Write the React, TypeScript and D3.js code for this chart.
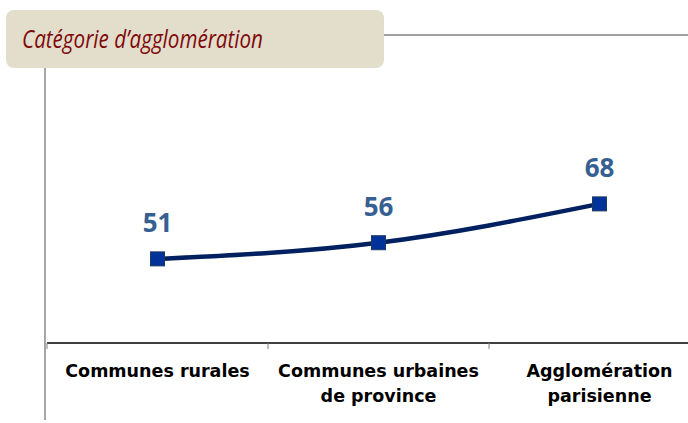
import React from "react";
import * as d3 from "d3";

const categories: string[][] = [["Communes rurales"], ["Communes urbaines", "de province"], ["Agglomération", "parisienne"]];
const values: number[] = [51, 56, 68];
const title = "Catégorie d’agglomération";

export default function App() {
  const W = 688, H = 423;
  const left = 47, axisY = 343;
  const x = d3.scaleBand<number>().domain(d3.range(values.length)).range([left, left + 663]);
  const y = d3.scaleLinear().domain([25, 80]).range([axisY, axisY - 55 * 3.235]);
  const pts: [number, number][] = values.map((v, i) => [x(i)! + x.bandwidth() / 2, y(v)]);
  const line = d3.line().curve(d3.curveMonotoneX)(pts) || "";
  const ticks = d3.range(values.length).map((i) => x(i)!);
  return (
    <svg width={W} height={H} style={{ position: "absolute", left: 0, top: 0 }}>
      <rect x={0} y={0} width={W} height={H} fill="#fff" />
      <line x1={380} x2={W} y1={35} y2={35} stroke="#a0a0a0" strokeWidth={2} />
      <line x1={45} x2={45} y1={60} y2={420} stroke="#a6a6a6" strokeWidth={2} />
      <rect x={6} y={10} width={378} height={58} rx={8} fill="#e3ddcc" />
      <text x={22} y={48} fill="#7f0a0a" fontFamily="Open Sans" fontStyle="italic" fontSize={25} textLength={241} lengthAdjust="spacingAndGlyphs">{title}</text>
      <line x1={left} x2={W} y1={axisY} y2={axisY} stroke="#000" strokeWidth={1.5} />
      {ticks.map((t, i) => (
        <line key={i} x1={t} x2={t} y1={axisY} y2={axisY + 6} stroke="#808080" strokeWidth={1} />
      ))}
      <path d={line} fill="none" stroke="#002060" strokeWidth={4.5} />
      {pts.map(([px, py], i) => (
        <rect key={i} x={px - 7} y={py - 7} width={14} height={14} fill="#003399" stroke="#1f3864" strokeWidth={1} />
      ))}
      {pts.map(([px, py], i) => (
        <text key={i} x={px} y={py - 27} textAnchor="middle" fill="#376092" fontFamily="Open Sans" fontWeight="bold" fontSize={26}>{values[i]}</text>
      ))}
      {categories.map((lines, i) => (
        <text key={i} textAnchor="middle" fontFamily="DejaVu Sans" fontWeight="bold" fontSize={17.5} fill="#000">
          {lines.map((l, j) => (
            <tspan key={j} x={x(i)! + x.bandwidth() / 2} y={377 + j * 25}>{l}</tspan>
          ))}
        </text>
      ))}
    </svg>
  );
}
